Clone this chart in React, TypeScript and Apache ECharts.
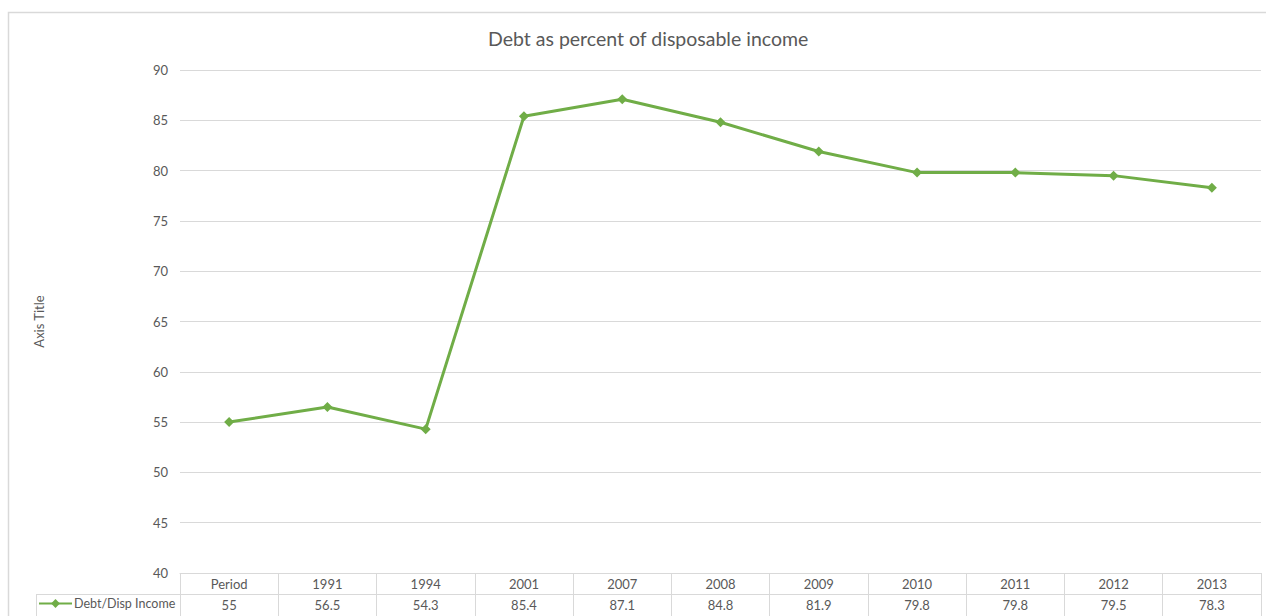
import React, { useEffect, useRef } from "react";
import * as echarts from "echarts";

const categories = ["Period", "1991", "1994", "2001", "2007", "2008", "2009", "2010", "2011", "2012", "2013"];
const values = [55, 56.5, 54.3, 85.4, 87.1, 84.8, 81.9, 79.8, 79.8, 79.5, 78.3];
const seriesName = "Debt/Disp Income";
const titleText = "Debt as percent of disposable income";
const yAxisTitle = "Axis Title";

const FONT = "Lato, 'Open Sans', sans-serif";
const TEXT = "#595959";
const LINE = "#d9d9d9";
const GREEN = "#70ad47";

export default function App() {
  const ref = useRef<HTMLDivElement>(null);
  useEffect(() => {
    if (!ref.current) return;
    const chart = echarts.init(ref.current, null, { renderer: "svg" });
    chart.setOption({
      animation: false,
      textStyle: { fontFamily: FONT },
      title: {
        text: titleText,
        left: 483,
        top: 23,
        textStyle: { fontFamily: FONT, fontSize: 19.5, fontWeight: "normal", color: TEXT },
      },
      legend: {
        left: 38,
        top: 597,
        data: [seriesName],
        itemWidth: 33,
        itemHeight: 11,
        itemGap: 2,
        padding: 0,
        textStyle: { fontFamily: FONT, fontSize: 12.5, color: TEXT, padding: [0, 0, 0, -3] },
      },
      grid: { left: 180, right: 5, top: 70, bottom: 43 },
      xAxis: [
        {
          type: "category",
          data: categories,
          boundaryGap: true,
          axisLine: { show: true, lineStyle: { color: LINE, width: 1 } },
          axisTick: { show: true, interval: 0, length: 50, lineStyle: { color: LINE } },
          axisLabel: { interval: 0, margin: 4, fontFamily: FONT, fontSize: 13, color: TEXT },
        },
        {
          type: "category",
          data: values.map((v) => String(v)),
          position: "bottom",
          offset: 21,
          boundaryGap: true,
          axisLine: { show: true, lineStyle: { color: LINE, width: 1 } },
          axisTick: { show: false },
          axisLabel: { interval: 0, margin: 4, fontFamily: FONT, fontSize: 13, color: TEXT },
        },
      ],
      yAxis: {
        type: "value",
        min: 40,
        max: 90,
        interval: 5,
        name: yAxisTitle,
        nameLocation: "middle",
        nameGap: 135,
        nameTextStyle: { fontFamily: FONT, fontSize: 13, color: TEXT },
        axisLine: { show: false },
        axisTick: { show: false },
        axisLabel: { margin: 12, fontFamily: FONT, fontSize: 13, color: TEXT },
        splitLine: { lineStyle: { color: LINE, width: 1 } },
      },
      series: [
        {
          name: seriesName,
          type: "line",
          data: values,
          xAxisIndex: 0,
          symbol: "diamond",
          symbolSize: 10,
          itemStyle: { color: GREEN },
          lineStyle: { color: GREEN, width: 3 },
        },
      ],
      graphic: [
        {
          type: "rect",
          shape: { x: 8.5, y: 12.5, width: 1300, height: 700 },
          style: { fill: "none", stroke: LINE, lineWidth: 1.5 },
          silent: true,
        },
        {
          type: "line",
          shape: { x1: 36, y1: 594.5, x2: 180, y2: 594.5 },
          style: { stroke: LINE, lineWidth: 1 },
        },
        {
          type: "line",
          shape: { x1: 36.5, y1: 594, x2: 36.5, y2: 620 },
          style: { stroke: LINE, lineWidth: 1 },
        },
      ],
    });
    return () => chart.dispose();
  }, []);
  return (
    <div
      ref={ref}
      style={{ position: "absolute", left: 0, top: 0, width: 1266, height: 616, background: "#fff" }}
    />
  );
}
